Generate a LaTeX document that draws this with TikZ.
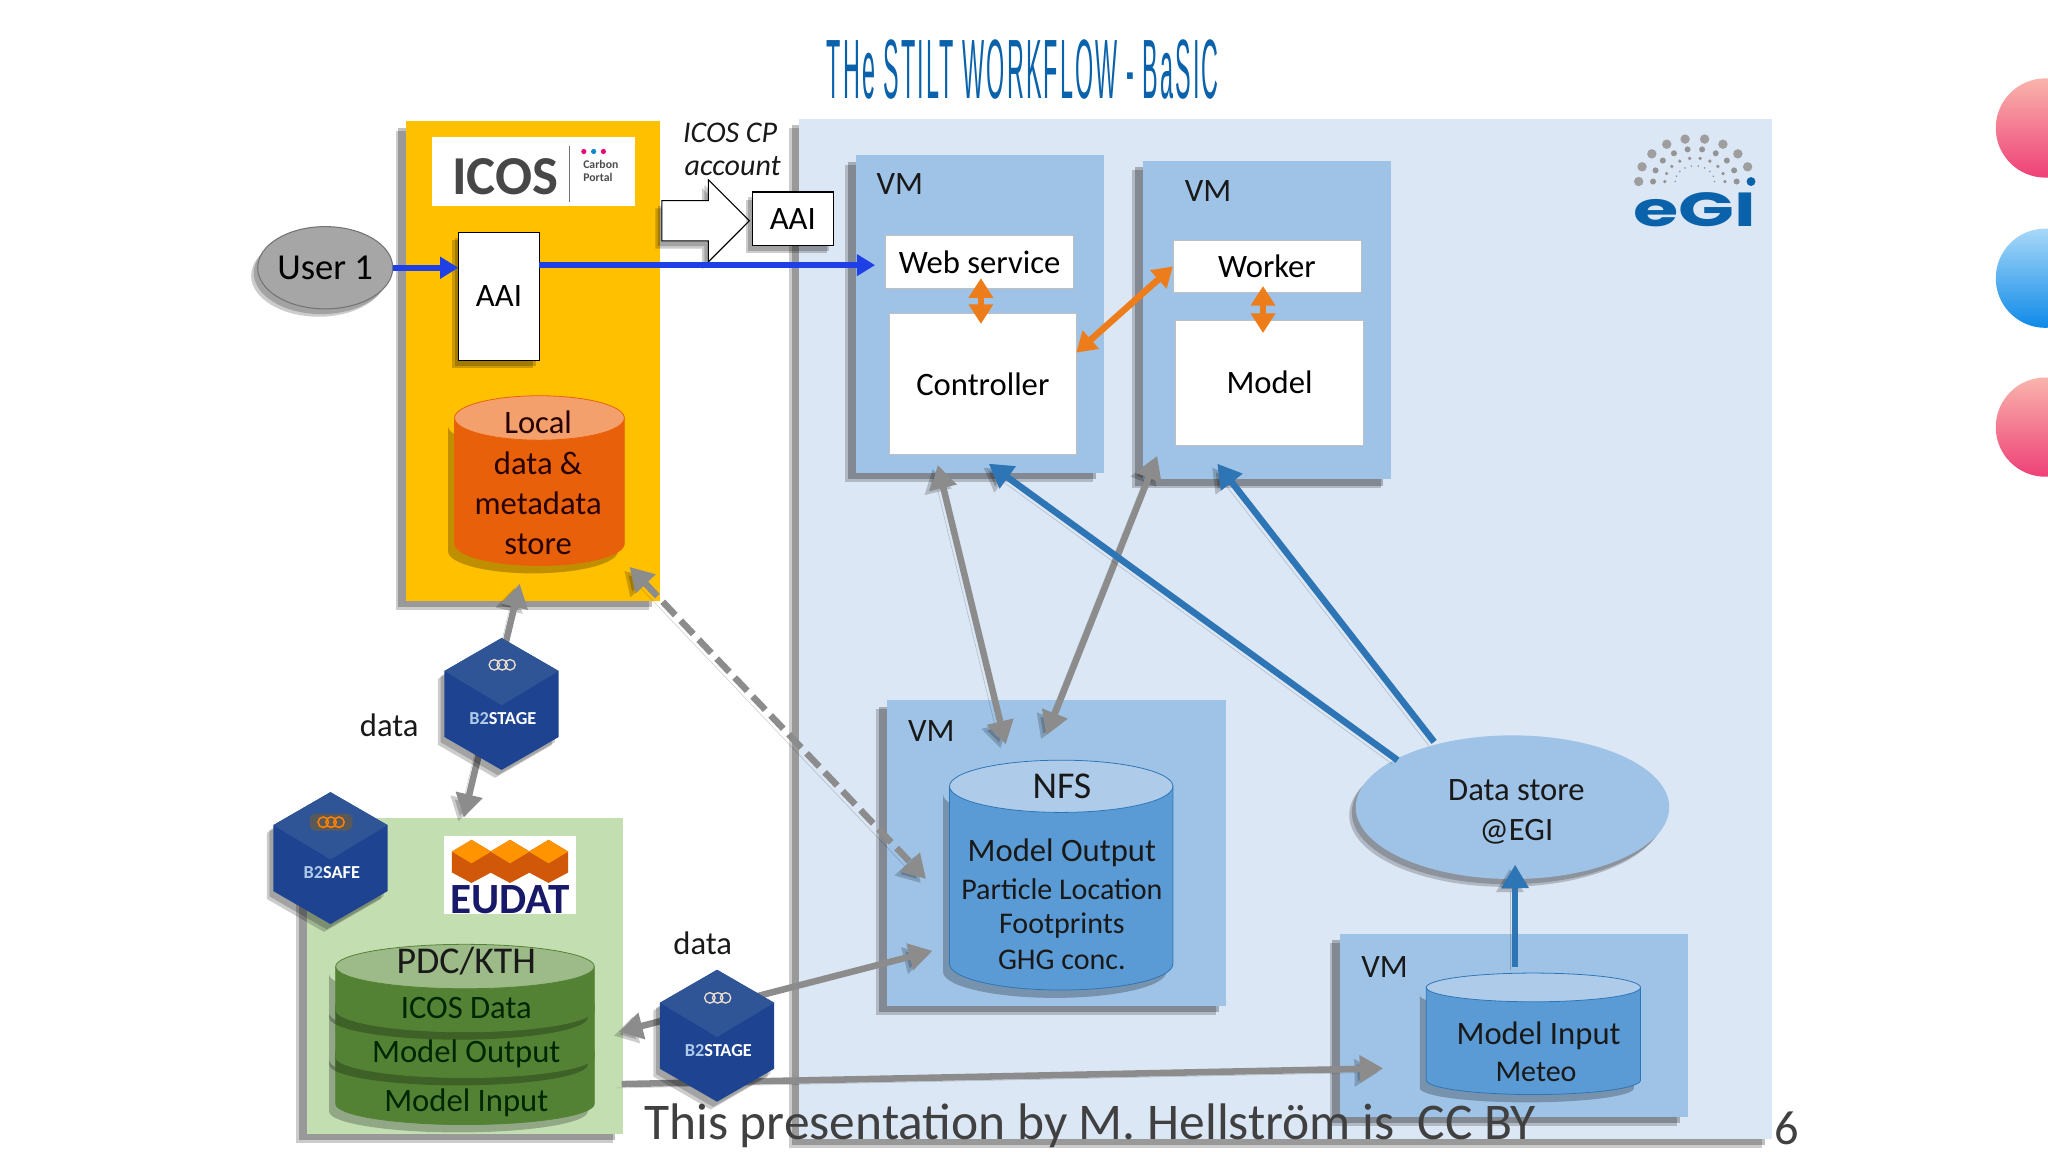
\documentclass[tikz,border=0pt]{standalone}
\usepackage{fontspec}
\usepackage{graphicx}
\setmainfont{Carlito}
\newfontfamily\titlefont[LetterSpace=9]{Liberation Sans}
\newfontfamily\logofont{Poppins}
\usetikzlibrary{arrows.meta,shapes.geometric,shapes.arrows,shadows}
\definecolor{panelblue}{HTML}{DCE7F5}
\definecolor{vmblue}{HTML}{9FC3E6}
\definecolor{cylblue}{HTML}{5B9BD5}
\definecolor{cyltop}{HTML}{AECBEA}
\definecolor{steelblue}{HTML}{2E75B6}
\definecolor{aaiblue}{HTML}{1F40E6}
\definecolor{arrowgray}{HTML}{8C8C8C}
\definecolor{arroworange}{HTML}{ED7D1A}
\definecolor{icosyellow}{HTML}{FFC000}
\definecolor{localorange}{HTML}{E8610A}
\definecolor{localtop}{HTML}{F4A06C}
\definecolor{eudatgreen}{HTML}{C3DFB2}
\definecolor{pdcgreen}{HTML}{548235}
\definecolor{pdctop}{HTML}{9DBB88}
\definecolor{hexdark}{HTML}{1D4391}
\definecolor{hexlight}{HTML}{2F5597}
\definecolor{egiblue}{HTML}{0A62AB}
\definecolor{ballpink}{HTML}{EE4077}
\definecolor{ballpale}{HTML}{F9B4AC}
\definecolor{ballblue}{HTML}{0E8AE8}
\definecolor{ballsky}{HTML}{A8D8F8}
\tikzset{
  boxshadow/.style={drop shadow={shadow xshift=-8pt,shadow yshift=-7pt,fill=black,opacity=.2},
    drop shadow={shadow xshift=-6pt,shadow yshift=-5pt,fill=black,opacity=.25}},
  softshadow/.style={drop shadow={shadow xshift=-5pt,shadow yshift=-6pt,fill=black,opacity=.2},
    drop shadow={shadow xshift=-3pt,shadow yshift=-4pt,fill=black,opacity=.2}},
  linkshadow/.style={preaction={draw=black,opacity=.2,transform canvas={xshift=-4pt,yshift=-3pt}}},
  area/.style={inner sep=0pt,outer sep=0pt,boxshadow},
  vmbox/.style={area,fill=vmblue},
  whitebox/.style={inner sep=0pt,outer sep=0pt,fill=white,draw=black!25,line width=.6pt,font=\fontsize{25}{28}\selectfont},
  aaibox/.style={inner sep=0pt,outer sep=0pt,fill=white,draw=black,line width=1pt,font=\fontsize{25}{28}\selectfont,softshadow},
  textlabel/.style={font=\fontsize{25}{28}\selectfont,text=black!90,inner sep=0pt},
  smalllabel/.style={font=\fontsize{23}{26}\selectfont,text=black!90,inner sep=0pt},
  biglabel/.style={font=\fontsize{29}{30}\selectfont,text=black!90,inner sep=0pt},
  aailink/.style={draw=aaiblue,line width=4.5pt,-{Triangle[length=14pt,width=16pt]}},
  bluelink/.style={draw=steelblue,line width=5pt,-{Triangle[length=18pt,width=20pt]},linkshadow},
  graylink/.style={draw=arrowgray,line width=5pt,{Triangle[length=18pt,width=20pt]}-{Triangle[length=18pt,width=20pt]},linkshadow},
  grayonelink/.style={draw=arrowgray,line width=5pt,-{Triangle[length=18pt,width=20pt]},linkshadow},
  orangelink/.style={draw=arroworange,line width=5pt,{Triangle[length=15pt,width=18pt]}-{Triangle[length=15pt,width=18pt]}},
  pics/storecan/.style n args={6}{code={
    \fill[black,opacity=.25] (-#1-5,6) arc[start angle=180,end angle=360,x radius=#1pt,y radius=#2pt] -- (#1-5,#3+6) arc[start angle=360,end angle=180,x radius=#1pt,y radius=#2pt] -- cycle;
    \path[fill=#4,draw=#6,line width=.6pt] (-#1,0) -- (-#1,#3) arc[start angle=180,end angle=360,x radius=#1pt,y radius=#2pt] -- (#1,0) -- cycle;
    \path[fill=#5,draw=#6,line width=.6pt] (0,0) ellipse[x radius=#1pt,y radius=#2pt];
  }},
  pics/b2hex/.style n args={2}{code={
    \node[regular polygon,regular polygon sides=6,shape border rotate=30,minimum size=101pt,inner sep=0pt,outer sep=0pt,fill=hexdark,softshadow] (-body) at (0,0) {};
    \fill[hexlight] (-body.corner 1) -- (-body.corner 6) -- (0,1) -- (-body.corner 2) -- cycle;
    \node[inner sep=0pt,font=\fontsize{14}{14}\selectfont\bfseries] (-name) at (1,11) {\textcolor{cyltop}{#1}\textcolor{white}{#2}};
  }},
  pics/b2rings/.style={code={
    \foreach \rx in {-6,0,6} \draw[draw=white!75!brown,line width=1pt] (\rx,0) circle (4pt);
  }}
}
\begin{document}
\begin{tikzpicture}[x=1pt,y=-1pt]
\useasboundingbox (0,0) rectangle (1568,882);
% slide
\node[inner sep=0pt,text=egiblue,font=\titlefont] (title) at (783,53.5) {\resizebox{300pt}{45pt}{THe STILT WORKFLOW - BaSIC}};
\shade[shading=axis,shading angle=-35,top color=ballpale,bottom color=ballpink] (1566,98) circle (38pt);
\shade[shading=axis,shading angle=-35,top color=ballsky,bottom color=ballblue] (1566,213) circle (38pt);
\shade[shading=axis,shading angle=-35,top color=ballpale,bottom color=ballpink] (1566,327) circle (38pt);
% EGI side
\node[area,fill=panelblue,minimum width=745pt,minimum height=781pt] (egi) at (984.5,481.5) {};
\foreach \a in {0,20,...,160} \fill[black!38] ({1297.6+43*cos(\a+180)},{139+33*sin(\a+180)}) circle (3.6pt);
\fill[egiblue] (1340.6,139) circle (3.4pt);
\foreach \a in {0,20,...,180} \fill[black!42] ({1297.6+32*cos(\a+180)},{139+25*sin(\a+180)}) circle (2.3pt);
\foreach \a in {0,20,...,180} \fill[black!42] ({1297.6+23*cos(\a+180)},{139+18*sin(\a+180)}) circle (1.4pt);
\foreach \a in {0,20,...,180} \fill[black!42] ({1297.6+15*cos(\a+180)},{139+12*sin(\a+180)}) circle (.7pt);
\node[inner sep=0pt,text=egiblue] (egilogo) at (1297.5,160.5) {\resizebox{94pt}{26pt}{\logofont\bfseries eGI}};
% VMs
\node[vmbox,minimum width=190pt,minimum height=243pt] (vmweb) at (750,240.5) {};
\node[vmbox,minimum width=190pt,minimum height=244pt] (vmwork) at (970,245) {};
\node[vmbox,minimum width=260pt,minimum height=234pt] (vmnfs) at (809,653) {};
\node[vmbox,minimum width=266pt,minimum height=140pt] (vmin) at (1159,785) {};
\node[textlabel] (vmweblabel) at (689,141) {VM};
\node[textlabel] (vmworklabel) at (925,146) {VM};
\node[textlabel] (vmnfslabel) at (713,560) {VM};
\node[textlabel] (vminlabel) at (1060,740) {VM};
\node[whitebox,minimum width=144pt,minimum height=41pt] (web) at (750,200.5) {Web service};
\node[whitebox,minimum width=143pt,minimum height=108pt] (controller) at (752.5,294) {Controller};
\node[whitebox,minimum width=144pt,minimum height=40pt] (worker) at (970,204) {Worker};
\node[whitebox,minimum width=144pt,minimum height=96pt] (model) at (972,293) {Model};
\draw[orangelink] ([xshift=1pt,yshift=8pt]web.south) -- ([xshift=-1.5pt,yshift=-8pt]controller.north);
\draw[orangelink] ([xshift=-3pt,yshift=5pt]worker.south) -- ([xshift=-5pt,yshift=-10pt]model.north);
\draw[orangelink] (worker.west) -- ([yshift=24pt]controller.east);
% stores
\pic at (812.5,602) {storecan={85.5}{20}{136}{cylblue}{cyltop}{steelblue}};
\node[biglabel] (nfstop) at (813,602) {NFS};
\node[textlabel] (nfsa) at (813,653) {Model Output};
\node[smalllabel] (nfsb) at (813,681) {Particle Location};
\node[smalllabel] (nfsc) at (813,709) {Footprints};
\node[smalllabel] (nfsd) at (813,735) {GHG conc.};
\pic at (1174,756) {storecan={82}{11}{71}{cylblue}{cyltop}{steelblue}};
\node[textlabel] (meteoa) at (1178,793) {Model Input};
\node[smalllabel] (meteob) at (1176,821) {Meteo};
\node[ellipse,minimum width=240pt,minimum height=110pt,inner sep=0pt,outer sep=0pt,fill=vmblue,softshadow] (store) at (1158,618) {};
\node[textlabel] (storea) at (1161,605) {Data store};
\node[textlabel] (storeb) at (1161,637) {@EGI};
% ICOS side
\node[area,fill=icosyellow,minimum width=194pt,minimum height=367pt] (icos) at (408,276.5) {};
\node[inner sep=0pt,fill=white,minimum width=155pt,minimum height=53pt] (icoslogo) at (408.5,131.5) {};
\node[inner sep=0pt,text=black!72,font=\fontsize{42}{42}\selectfont\bfseries] (icosname) at (387,135) {ICOS};
\draw[black!55,line width=.8pt] (436,112) -- (436,155);
\fill[magenta!80!red] (447,116) circle (2pt);
\fill[cyan!70!blue] (454.5,116) circle (2pt);
\fill[magenta!80!red] (462,116) circle (2pt);
\node[inner sep=0pt,text=black!70,align=left,font=\fontsize{9}{9.5}\selectfont\bfseries] (icosportal) at (460,131) {Carbon\\Portal};
\node[ellipse,minimum width=97pt,minimum height=63pt,inner sep=0pt,outer sep=0pt,fill=black!35,draw=black!55,line width=.8pt,softshadow,font=\fontsize{28}{30}\selectfont] (user) at (249,205) {User 1};
\node[aaibox,minimum width=62pt,minimum height=98pt] (aaitall) at (382,227) {AAI};
\pic at (413,320) {storecan={65}{17}{96}{localorange}{localtop}{localorange}};
\node[textlabel,text=black!85!red] (locala) at (412,323) {Local};
\node[textlabel,text=black!85!red] (localb) at (412,355) {data \&};
\node[textlabel,text=black!85!red] (localc) at (412,385) {metadata};
\node[textlabel,text=black!85!red] (locald) at (412,417) {store};
\node[single arrow,single arrow head extend=16pt,minimum height=67pt,minimum width=62pt,inner xsep=0pt,inner ysep=15pt,outer sep=0pt,fill=white,draw=black,line width=.8pt,softshadow] (account) at (532.5,169) {};
\node[aaibox,minimum width=62pt,minimum height=41pt] (aaismall) at (607,167.5) {AAI};
\node[textlabel,font=\fontsize{23}{26}\selectfont\itshape] (accounta) at (559,102) {ICOS CP};
\node[textlabel,font=\fontsize{23}{26}\selectfont\itshape] (accountb) at (561,127) {account};
\coordinate (aaiout) at (413,203);
\coordinate (webin) at (670,203);
\draw[aailink] (user.east) -- (aaitall.west |- user.east);
\draw[aailink] (aaiout) -- (webin);
% EUDAT side
\node[area,fill=eudatgreen,minimum width=242pt,minimum height=242pt] (eudat) at (356,747) {};
\node[inner sep=0pt,fill=white,minimum width=101pt,minimum height=60pt] (eudatlogo) at (390.5,670) {};
\foreach \cx in {361,390.5,420} {
  \fill[localorange!90!black] (\cx,643) -- (\cx+15,652) -- (\cx+15,668) -- (\cx,676) -- (\cx-15,668) -- (\cx-15,652) -- cycle;
  \fill[orange!85!yellow] (\cx,643) -- (\cx+15,652) -- (\cx,661) -- (\cx-15,652) -- cycle;
}
\node[inner sep=0pt,text=blue!35!black!90,font=\fontsize{33}{33}\selectfont\bfseries] (eudatname) at (390.5,689) {EUDAT};
\pic at (356,806) {storecan={99}{16}{39}{pdcgreen}{pdcgreen}{pdcgreen}};
\pic at (356,770) {storecan={99}{16}{39}{pdcgreen}{pdcgreen}{pdcgreen}};
\pic at (356,740) {storecan={99}{17}{33}{pdcgreen}{pdctop}{pdcgreen}};
\node[biglabel] (pdctitle) at (357,736) {PDC/KTH};
\node[textlabel,text=black!85!green] (pdcicos) at (357,772) {ICOS Data};
\node[textlabel,text=black!85!green] (pdcout) at (357,807) {Model Output};
\node[textlabel,text=black!85!green] (pdcin) at (357,844) {Model Input};
% data links
\coordinate (ctrlfoot) at (718,356);
\coordinate (nfsheada) at (770,570);
\coordinate (workfoot) at (886,349);
\coordinate (nfsheadb) at (801,563);
\coordinate (ctrlfootb) at (757,355);
\coordinate (workfootb) at (932,355);
\coordinate (storetopa) at (1070,582);
\coordinate (storetopb) at (1098,568);
\coordinate (icoscorner) at (482,434);
\coordinate (nfsside) at (709,673);
\coordinate (icosfoot) at (398,447);
\coordinate (eudattop) at (355,626);
\coordinate (pdcside) at (474,790);
\coordinate (nfsleft) at (714,728);
\coordinate (pdcfoot) at (476,830);
\coordinate (meteoside) at (1059,818);
\coordinate (meteotop) at (1160,740);
\coordinate (storefoot) at (1160,662);
\draw[graylink] (ctrlfoot) -- (nfsheada);
\draw[graylink] (workfoot) -- (nfsheadb);
\draw[bluelink] (storetopa) -- (ctrlfootb);
\draw[bluelink] (storetopb) -- (workfootb);
\draw[bluelink] (meteotop) -- (storefoot);
\draw[graylink,dash pattern=on 14pt off 6pt] (icoscorner) -- (nfsside);
\draw[graylink] (icosfoot) -- (eudattop);
\draw[graylink] (pdcside) -- (nfsleft);
\draw[grayonelink] (pdcfoot) -- (meteoside);
% hexagons
\pic (stagea) at (384,539) {b2hex={B2}{STAGE}};
\pic at (384.5,509) {b2rings};
\pic (safe) at (253,657) {b2hex={B2}{SAFE}};
\fill[black!65,rounded corners=5pt] (237,623) rectangle (270,636);
\foreach \rx in {-6,0,6} \draw[draw=orange,line width=1.2pt] (253.5+\rx,629.5) circle (4pt);
\pic (stageb) at (549,793) {b2hex={B2}{STAGE}};
\pic at (549.5,764) {b2rings};
\node[textlabel] (dataa) at (298,555) {data};
\node[textlabel] (datab) at (538,722) {data};
% footer
\node[anchor=west,inner sep=0pt,text=black!75,font=\fontsize{39.4}{41}\selectfont] (footer) at (493,862) {This presentation by M. Hellström is\ \ CC BY};
\node[inner sep=0pt,text=black!75,font=\fontsize{37}{39}\selectfont] (pageno) at (1368,864) {6};
\end{tikzpicture}
\end{document}
